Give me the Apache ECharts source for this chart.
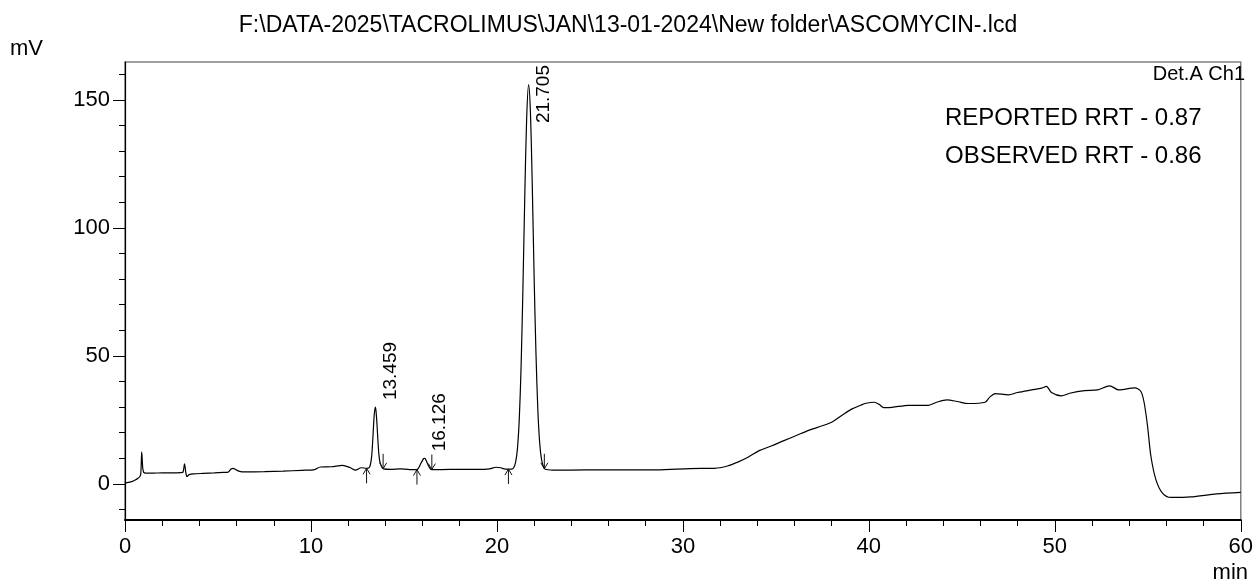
<!DOCTYPE html>
<html>
<head>
<meta charset="utf-8">
<title>ASCOMYCIN chromatogram</title>
<script src="https://cdn.jsdelivr.net/npm/echarts@6/dist/echarts.min.js"></script>
<style>
  html, body { margin: 0; padding: 0; background: #ffffff; }
  #chart { width: 1256px; height: 585px; }
</style>
</head>
<body>
<div id="chart"></div>
<script>
const FONT = "'Liberation Sans', Arial, Helvetica, sans-serif";

const runFile = 'F:\\DATA-2025\\TACROLIMUS\\JAN\\13-01-2024\\New folder\\ASCOMYCIN-.lcd';
const detectorName = 'Det.A Ch1';
const rrtNotes = ['REPORTED RRT - 0.87', 'OBSERVED RRT - 0.86'];

// Detector signal, [retention time (min), signal (mV)]
const traceInjection = [
  [0, 0.4], [0.2, 0.6], [0.4, 1.0], [0.55, 1.5], [0.7, 2.2], [0.8, 2.9], [0.85, 4.0],
  [0.9, 12.5], [0.95, 6.5], [1.0, 4.6], [1.1, 4.2], [1.5, 4.2], [2.0, 4.3], [2.5, 4.3],
  [3.0, 4.4], [3.12, 4.6], [3.2, 7.8], [3.27, 4.5], [3.33, 2.9], [3.45, 3.6], [3.7, 3.9],
  [4.2, 4.1], [4.8, 4.3], [5.3, 4.5], [5.55, 4.6], [5.7, 5.8], [5.82, 6.1], [5.95, 5.6],
  [6.15, 4.9], [6.5, 4.7], [7.5, 4.8], [8.5, 5.0], [9.5, 5.3], [10.2, 5.6], [10.5, 6.6],
  [11.1, 6.7], [11.7, 7.2], [12.1, 6.4], [12.4, 5.4], [12.7, 6.3], [13.0, 6.1]
];
const tracePeaks = [
  [13.15, 6.5], [13.25, 9.9], [13.3, 14.4], [13.35, 20.7], [13.4, 26.8], [13.459, 30.0],
  [13.5, 28.4], [13.55, 23.3], [13.6, 17.0], [13.65, 11.8], [13.7, 8.9], [13.8, 6.7],
  [13.9, 5.9], [14.3, 5.7], [14.8, 5.9], [15.3, 5.6], [15.7, 5.6], [15.8, 6.4], [15.9, 7.9],
  [16.0, 9.2], [16.06, 9.9], [16.126, 10.0], [16.2, 9.0], [16.3, 7.4], [16.4, 6.1],
  [16.5, 5.6], [17.0, 5.6], [18.0, 5.7], [19.0, 5.7], [19.6, 5.9], [19.95, 6.5], [20.2, 6.3],
  [20.45, 5.8], [20.62, 5.8], [20.8, 5.8], [20.9, 6.3], [21.0, 8.3], [21.1, 13.5],
  [21.2, 25.0], [21.3, 46.0], [21.4, 77.0], [21.5, 113.0], [21.6, 143.0], [21.705, 156.0],
  [21.8, 145.5], [21.9, 117.0], [22.0, 81.0], [22.1, 51.0], [22.2, 29.0], [22.3, 16.0],
  [22.4, 9.5], [22.5, 6.8], [22.6, 5.7], [23.0, 5.4], [24.0, 5.4], [25.5, 5.5], [27.0, 5.5],
  [28.6, 5.5]
];
const traceGradient = [
  [30.4, 6.0], [31.7, 6.1], [32.4, 7.0], [32.95, 8.5], [33.5, 10.4], [34.1, 13.0],
  [34.75, 14.8], [35.4, 16.8], [36.1, 18.9], [36.8, 21.0], [37.5, 22.7], [38.05, 24.3],
  [38.6, 27.0], [39.1, 29.3], [39.55, 30.7], [39.85, 31.5], [40.3, 31.9], [40.55, 31.1],
  [40.8, 29.8], [41.25, 29.9], [42.15, 30.7], [43.2, 30.7], [43.65, 31.9], [44.2, 32.8],
  [44.75, 32.2], [45.35, 31.4], [46.25, 31.9], [46.5, 33.9], [46.8, 35.3], [47.5, 34.8],
  [48.0, 35.7], [48.75, 36.7], [49.3, 37.4], [49.55, 38.1], [49.82, 35.7], [50.35, 34.4],
  [50.8, 35.4], [51.6, 36.4], [52.3, 36.7], [52.95, 38.3], [53.45, 36.7], [54.3, 37.5],
  [54.63, 36.1], [54.81, 31.5], [54.99, 22.4], [55.17, 10.7], [55.44, 1.6], [55.79, -3.6],
  [56.24, -5.3], [57.3, -5.1], [58.7, -3.9], [60.0, -3.3]
];

// Integrated peaks: apex, integration start / end marks
const peakLabels = ['13.459', '16.126', '21.705'];
const peakTimes = [13.459, 16.126, 21.705];
const peakHeights = [30.0, 10.0, 156.0];
const peakStartTimes = [12.99, 15.70, 20.62];
const peakStartLevels = [6.1, 5.6, 5.8];
const peakEndTimes = [13.88, 16.50, 22.55];
const peakEndLevels = [5.9, 5.6, 5.9];

// Axes
const timeRange = [0, 60];
const timeStep = 10;
const signalRange = [-14.1, 164.8];
const signalMajorTicks = [0, 50, 100, 150];
const signalMinorTicks = [-10, 10, 20, 30, 40, 60, 70, 80, 90, 110, 120, 130, 140, 160];

const trace = traceInjection.concat(tracePeaks, traceGradient);

const measureCtx = document.createElement('canvas').getContext('2d');
function textWidth(text, size) {
  measureCtx.font = size + 'px ' + FONT;
  return measureCtx.measureText(text).width;
}

const arrowData = peakStartTimes.map((t, i) => [t, peakStartLevels[i], 1])
  .concat(peakEndTimes.map((t, i) => [t, peakEndLevels[i], -1]));
const labelData = peakTimes.map((t, i) => [t, peakHeights[i], i]);

const LABEL_SIZE = 19;
const AXIS_SIZE = 22;

const chart = echarts.init(document.getElementById('chart'), null, { renderer: 'canvas' });

chart.setOption({
  animation: false,
  backgroundColor: '#ffffff',
  title: {
    text: runFile,
    left: 'center',
    top: 9,
    textStyle: { fontFamily: FONT, fontSize: 23, fontWeight: 'normal', color: '#000' }
  },
  grid: {
    left: 125, right: 9, top: 62, bottom: 65,
    show: true, borderColor: '#808080', borderWidth: 1.5, backgroundColor: 'transparent'
  },
  xAxis: {
    type: 'value',
    min: timeRange[0], max: timeRange[1], interval: timeStep,
    axisLine: { show: true, onZero: false, lineStyle: { color: '#000', width: 2 } },
    axisTick: { show: true, length: 12, lineStyle: { color: '#000', width: 1 } },
    minorTick: { show: true, splitNumber: 5, length: 6, lineStyle: { color: '#000', width: 1 } },
    axisLabel: { fontFamily: FONT, fontSize: AXIS_SIZE, color: '#000', margin: 16 },
    splitLine: { show: false }
  },
  yAxis: [
    {
      type: 'value',
      min: signalRange[0], max: signalRange[1],
      axisLine: { show: true, onZero: false, lineStyle: { color: '#000', width: 1.2 } },
      axisTick: { show: true, customValues: signalMajorTicks, length: 12, lineStyle: { color: '#000', width: 1 } },
      axisLabel: { customValues: signalMajorTicks, fontFamily: FONT, fontSize: AXIS_SIZE, color: '#000', margin: 15 },
      splitLine: { show: false }
    },
    {
      type: 'value',
      min: signalRange[0], max: signalRange[1],
      position: 'left',
      axisLine: { show: false, onZero: false },
      axisTick: { show: true, customValues: signalMinorTicks, length: 6, lineStyle: { color: '#000', width: 1 } },
      axisLabel: { show: false },
      splitLine: { show: false }
    }
  ],
  graphic: [
    { type: 'text', left: 10, top: 38, style: { text: 'mV', fontFamily: FONT, fontSize: AXIS_SIZE, fill: '#000' } },
    { type: 'text', right: 8, top: 562, style: { text: 'min', fontFamily: FONT, fontSize: AXIS_SIZE, fill: '#000' } },
    { type: 'text', right: 11, top: 64, style: { text: detectorName, fontFamily: FONT, fontSize: 20, fill: '#000' } },
    { type: 'text', left: 945, top: 106, style: { text: rrtNotes[0], fontFamily: FONT, fontSize: 24, fill: '#000' } },
    { type: 'text', left: 945, top: 144, style: { text: rrtNotes[1], fontFamily: FONT, fontSize: 24, fill: '#000' } }
  ],
  series: [
    {
      name: 'Det.A Ch1',
      type: 'line',
      data: trace,
      showSymbol: false,
      smooth: 0.3,
      lineStyle: { color: '#000', width: 1.2 },
      silent: true,
      z: 3
    },
    {
      name: 'integration marks',
      type: 'custom',
      data: arrowData,
      silent: true,
      z: 4,
      renderItem: function (params, api) {
        const tip = api.coord([api.value(0), api.value(1)]);
        const dir = api.value(2); // 1: mark below the trace pointing up, -1: above pointing down
        const shaft = 15, head = 6, half = 3.5;
        return {
          type: 'group',
          children: [
            { type: 'line', shape: { x1: tip[0], y1: tip[1], x2: tip[0], y2: tip[1] + dir * shaft },
              style: { stroke: '#111', lineWidth: 1 } },
            { type: 'polyline', shape: { points: [[tip[0] - half, tip[1] + dir * head], [tip[0], tip[1]], [tip[0] + half, tip[1] + dir * head]] },
              style: { stroke: '#111', lineWidth: 1, fill: null } }
          ]
        };
      }
    },
    {
      name: 'retention times',
      type: 'custom',
      data: labelData,
      silent: true,
      z: 5,
      renderItem: function (params, api) {
        const p = api.coord([api.value(0), api.value(1)]);
        const text = peakLabels[api.value(2)];
        const w = textWidth(text, LABEL_SIZE);
        const top = params.coordSys.y;
        let anchorY = p[1] - 7;
        if (anchorY - w < top + 3) anchorY = top + 3 + w;
        return {
          type: 'text',
          x: p[0] + 15,
          y: anchorY,
          rotation: Math.PI / 2,
          style: { text: text, fontFamily: FONT, fontSize: LABEL_SIZE, fill: '#000', align: 'left', verticalAlign: 'middle' }
        };
      }
    }
  ]
});
</script>
</body>
</html>
